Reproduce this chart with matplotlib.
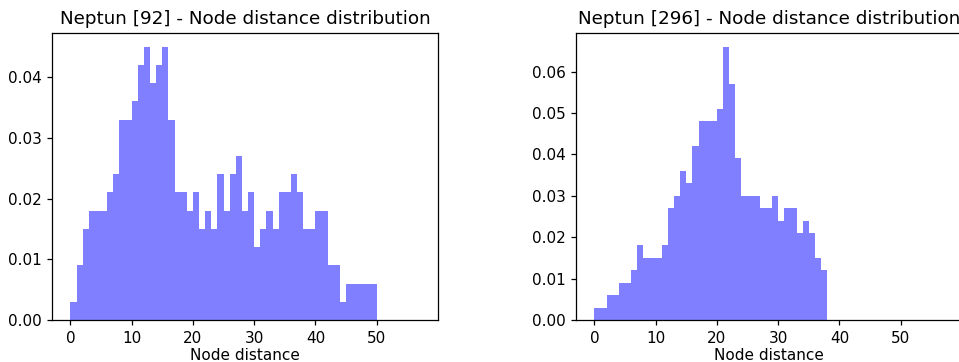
import numpy as np
import matplotlib
matplotlib.use("Agg")
import matplotlib.pyplot as plt

# Left panel: Neptun [92], density per unit-width bin, bins 0..50
titles = ["Neptun [92] - Node distance distribution",
          "Neptun [296] - Node distance distribution"]
xlabel = "Node distance"

density_92 = [0.003, 0.009, 0.015, 0.018, 0.018, 0.018, 0.021, 0.024, 0.033, 0.033,
              0.036, 0.042, 0.045, 0.039, 0.042, 0.045, 0.033, 0.021, 0.021, 0.018,
              0.021, 0.015, 0.018, 0.015, 0.024, 0.018, 0.024, 0.027, 0.018, 0.021,
              0.012, 0.015, 0.018, 0.015, 0.021, 0.021, 0.024, 0.021, 0.015, 0.015,
              0.018, 0.018, 0.009, 0.009, 0.003, 0.006, 0.006, 0.006, 0.006, 0.006]

# Right panel: Neptun [296], bins 0..38
density_296 = [0.003, 0.003, 0.006, 0.006, 0.009, 0.009, 0.012, 0.018, 0.015, 0.015,
               0.015, 0.018, 0.027, 0.030, 0.036, 0.033, 0.042, 0.048, 0.048, 0.048,
               0.051, 0.066, 0.057, 0.039, 0.030, 0.030, 0.030, 0.027, 0.027, 0.030,
               0.024, 0.027, 0.027, 0.021, 0.024, 0.021, 0.015, 0.012]

W, H = 959, 362
fig = plt.figure(figsize=(W / 100, H / 100), dpi=100)

ax_w = 386 / W
ax_h = (320 - 33) / H
bottom = 1 - 320 / H
ax1 = fig.add_axes([52 / W, bottom, ax_w, ax_h])
ax2 = fig.add_axes([576 / W, bottom, ax_w, ax_h])

for ax, dens, title in [(ax1, density_92, titles[0]), (ax2, density_296, titles[1])]:
    n = len(dens)
    edges = np.arange(n + 1)
    ax.hist(edges[:-1], bins=edges, weights=dens, color="blue", alpha=0.5)
    ax.set_xlim(-3, 60)
    ax.set_ylim(0, max(dens) * 1.05)
    ax.set_xticks([0, 10, 20, 30, 40, 50])
    ax.set_title(title, fontsize=13.2, pad=6.5)
    ax.set_xlabel(xlabel, fontsize=11, labelpad=2)
    ax.tick_params(labelsize=11, length=3.8, width=0.9, pad=3.8)
    for s in ax.spines.values():
        s.set_linewidth(0.9)

ax1.set_yticks([0.00, 0.01, 0.02, 0.03, 0.04])
ax2.set_yticks([0.00, 0.01, 0.02, 0.03, 0.04, 0.05, 0.06])
for ax in (ax1, ax2):
    ax.yaxis.set_major_formatter(matplotlib.ticker.FormatStrFormatter("%.2f"))

fig.savefig("out.png", dpi=100)
